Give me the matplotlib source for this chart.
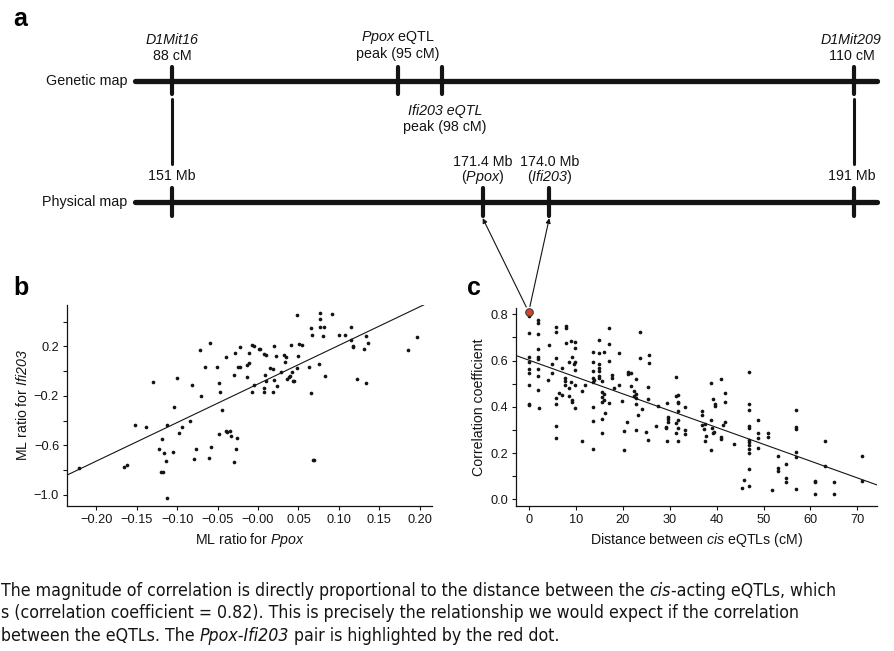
import os
import matplotlib
matplotlib.use('Agg')
import matplotlib.pyplot as plt
from matplotlib import font_manager as fm
from matplotlib.patches import ConnectionPatch
import numpy as np

SANS = 'Liberation Sans'

plt.rcParams['font.family'] = [SANS, 'DejaVu Sans']
plt.rcParams['mathtext.fontset'] = 'custom'
plt.rcParams['mathtext.rm'] = SANS
plt.rcParams['mathtext.it'] = SANS + ':italic'
plt.rcParams['mathtext.sf'] = SANS + ':italic'

# ---------------- data ----------------
# Panel a: markers on genetic and physical maps
marker_names = ['D1Mit16', 'Ppox', 'Ifi203', 'D1Mit209']
genetic_cm = ['88', '95', '98', '110']
physical_mb = ['151', '171.4', '174.0', '191']

# Panel b: ML ratios
ppox_ratio = [-0.221, -0.165, -0.162, -0.152, -0.139, -0.130, -0.122, -0.118, -0.120, -0.117,
              -0.116, -0.114, -0.112, -0.112, -0.105, -0.104, -0.100, -0.097, -0.094, -0.084,
              -0.082, -0.079, -0.077, -0.072, -0.070, -0.065, -0.061, -0.059, -0.058, -0.051,
              -0.048, -0.048, -0.047, -0.045, -0.040, -0.039, -0.038, -0.035, -0.033, -0.030,
              -0.030, -0.028, -0.027, -0.026, -0.025, -0.022, -0.022, -0.014, -0.014, -0.011,
              -0.011, -0.007, -0.007, -0.005, -0.005, 0.001, 0.003, 0.007, 0.010, 0.007,
              0.008, 0.009, 0.010, 0.015, 0.018, 0.019, 0.020, 0.020, 0.022, 0.023,
              0.028, 0.032, 0.033, 0.035, 0.036, 0.038, 0.039, 0.041, 0.042, 0.043,
              0.045, 0.048, 0.048, 0.050, 0.051, 0.054, 0.063, 0.066, 0.066, 0.067,
              0.068, 0.069, 0.075, 0.076, 0.076, 0.077, 0.080, 0.081, 0.083, 0.091,
              0.100, 0.107, 0.115, 0.115, 0.117, 0.118, 0.122, 0.131, 0.134, 0.134,
              0.136, 0.185, 0.196]
ifi203_ratio = [-0.782, -0.773, -0.757, -0.434, -0.455, -0.089, -0.628, -0.547, -0.817, -0.817,
                -0.658, -0.730, -0.439, -1.027, -0.652, -0.291, -0.059, -0.498, -0.450, -0.407,
                -0.113, -0.714, -0.631, 0.170, -0.204, 0.036, -0.706, 0.230, -0.617, 0.036,
                -0.094, -0.509, -0.169, -0.318, -0.488, 0.111, -0.496, -0.482, -0.525, -0.032,
                -0.733, 0.143, -0.633, -0.539, 0.036, 0.036, 0.195, 0.046, -0.045, 0.143,
                0.062, 0.213, -0.167, 0.200, -0.113, 0.181, 0.181, 0.138, 0.130, -0.167,
                -0.137, -0.032, -0.080, 0.022, 0.014, -0.167, -0.070, 0.203, 0.119, -0.118,
                -0.008, 0.133, 0.076, 0.116, -0.062, -0.045, -0.040, 0.208, -0.005, -0.083,
                -0.083, 0.453, 0.025, 0.124, 0.216, 0.211, 0.033, 0.346, -0.178, 0.294,
                -0.720, -0.720, 0.057, 0.418, 0.472, 0.354, 0.284, 0.354, -0.040, 0.462,
                0.294, 0.289, 0.354, 0.251, 0.195, 0.203, -0.064, 0.178, -0.099, 0.281,
                0.227, 0.173, 0.273]
fit_b = (3.12, -0.104)   # slope, intercept

# Panel c: correlation vs distance between cis eQTLs
distance_cm = [0, 0, 0, 0, 0, 0, 0, 0, 0,
               1.9, 1.9, 1.9, 1.9, 1.9, 1.9, 1.9, 1.9, 1.9, 2.1,
               4.3, 4.1, 5.0, 5.0,
               5.9, 5.9, 5.9, 5.9, 5.9, 5.9, 5.9,
               6.4, 7.1, 7.0, 7.95, 7.95, 7.95, 7.8, 7.8, 7.8, 8.5, 8.5, 8.5,
               9.0, 9.2, 9.2, 9.2, 9.8, 9.8, 9.9, 9.9, 9.9, 9.9, 9.6, 9.1,
               11.3, 11.3, 11.9,
               13.6, 13.6, 13.6, 13.6, 13.6, 13.6, 13.6, 13.6, 14.0,
               15.05, 15.05, 15.05, 15.05, 15.05, 15.05, 15.05,
               15.6, 15.6, 15.6, 15.6, 15.6, 15.6,
               16.2, 16.0, 16.0, 16.0,
               17.2, 17.2, 17.2, 17.2, 17.8, 17.8, 18.1,
               19.2, 19.2, 19.9, 20.3, 20.3, 21.0,
               21.2, 21.2, 21.8, 21.8, 22.4, 22.4, 22.9, 22.9, 22.9, 22.9, 22.9, 23.2,
               23.8, 23.8, 24.1, 25.0, 25.3, 25.3, 25.7, 25.7, 25.3,
               27.5, 27.2,
               29.5, 29.7, 29.7, 29.3, 29.3, 29.7, 29.5,
               31.3, 31.4, 31.8, 31.7, 31.7, 31.7, 31.7, 31.4, 31.3, 31.7, 31.7,
               33.2, 33.2, 33.2,
               36.8, 36.8, 36.8, 37.6, 37.3, 37.8, 37.6,
               38.8, 39.3, 39.6, 39.6, 38.8, 39.0, 39.2, 39.5, 38.8,
               41.0, 41.7, 41.7, 41.7, 41.4, 41.0, 41.0, 43.7,
               47, 47, 47, 47, 47, 47, 47, 47, 47, 47, 47, 47,
               48.8, 48.8, 48.8, 48.8, 51.0, 51.0, 45.8, 45.4, 51.7,
               53.0, 53.0, 53.0, 54.8, 54.8, 54.8,
               57, 57, 57, 57, 57, 57,
               61.0, 61.0, 61.0, 63.0, 63.0, 65.0, 65.0, 71.0, 71.0]
correlation = [0.794, 0.720, 0.617, 0.595, 0.562, 0.545, 0.493, 0.413, 0.408,
               0.777, 0.764, 0.717, 0.649, 0.617, 0.607, 0.564, 0.532, 0.473, 0.396,
               0.667, 0.515, 0.584, 0.545,
               0.744, 0.725, 0.613, 0.440, 0.411, 0.319, 0.265,
               0.458, 0.451, 0.566, 0.751, 0.740, 0.678, 0.526, 0.512, 0.494, 0.592, 0.483, 0.448,
               0.685, 0.617, 0.430, 0.422, 0.679, 0.656, 0.595, 0.559, 0.494, 0.396, 0.584, 0.509,
               0.470, 0.250, 0.494,
               0.639, 0.592, 0.556, 0.523, 0.506, 0.400, 0.338, 0.216, 0.516,
               0.689, 0.634, 0.584, 0.566, 0.556, 0.534, 0.523,
               0.512, 0.466, 0.444, 0.422, 0.346, 0.288,
               0.372, 0.638, 0.454, 0.429,
               0.742, 0.670, 0.600, 0.415, 0.537, 0.526, 0.480,
               0.631, 0.494, 0.425, 0.297, 0.213, 0.333,
               0.552, 0.540, 0.545, 0.492, 0.470, 0.448, 0.454, 0.437, 0.520, 0.414, 0.300, 0.364,
               0.725, 0.613, 0.391, 0.290, 0.487, 0.257, 0.624, 0.588, 0.434,
               0.402, 0.319,
               0.418, 0.354, 0.346, 0.314, 0.307, 0.333, 0.252,
               0.528, 0.448, 0.450, 0.422, 0.415, 0.382, 0.343, 0.328, 0.288, 0.307, 0.252,
               0.397, 0.300, 0.281,
               0.382, 0.365, 0.321, 0.325, 0.302, 0.275, 0.254,
               0.504, 0.432, 0.412, 0.403, 0.343, 0.310, 0.287, 0.291, 0.213,
               0.519, 0.461, 0.422, 0.333, 0.321, 0.268, 0.261, 0.238,
               0.549, 0.412, 0.386, 0.319, 0.307, 0.257, 0.247, 0.236, 0.216, 0.199, 0.131, 0.059,
               0.342, 0.288, 0.267, 0.220, 0.285, 0.271, 0.084, 0.050, 0.040,
               0.188, 0.134, 0.124, 0.151, 0.091, 0.076,
               0.386, 0.314, 0.304, 0.206, 0.184, 0.043,
               0.081, 0.075, 0.023, 0.254, 0.146, 0.076, 0.022, 0.189, 0.081]
highlight_distance = 0.0
highlight_corr = 0.81
fit_c = (-0.00728, 0.602)   # slope, intercept

# caption: (text, italic) segments per line
caption_lines = [
    [('The magnitude of correlation is directly proportional to the distance between the ', False),
     ('cis', True), ('-acting eQTLs, which', False)],
    [('s (correlation coefficient = 0.82). This is precisely the relationship we would expect if the correlation', False)],
    [('between the eQTLs. The ', False), ('Ppox-Ifi203', True),
     (' pair is highlighted by the red dot.', False)],
]


# ---------------- fonts for the caption (condensed if available) ----------------
def find_condensed():
    best = None
    for e in fm.fontManager.ttflist:
        n = e.name.lower()
        f = os.path.basename(e.fname).lower()
        if 'mono' in n or 'serif' in n or 'bold' in f or 'light' in f or 'thin' in f:
            continue
        if 'liberation sans narrow' in n or 'liberationsansnarrow' in f:
            rank = 0
        elif 'condensed' in n or 'condensed' in f or str(e.stretch) in ('condensed', 'semi-condensed'):
            rank = 1 if 'dejavu' in n else 2
        else:
            continue
        if best is None or rank < best[0]:
            best = (rank, e.name, e.stretch)
    if best is None:
        return None, None
    reg = ita = None
    for e in fm.fontManager.ttflist:
        f = os.path.basename(e.fname).lower()
        if e.name != best[1] or e.stretch != best[2] or 'bold' in f:
            continue
        if e.style == 'normal' and reg is None:
            reg = e.fname
        elif e.style in ('italic', 'oblique') and ita is None:
            ita = e.fname
    return reg, ita


cond_reg, cond_it = find_condensed()


def cap_prop(italic, size):
    if cond_reg:
        path = cond_it if (italic and cond_it) else cond_reg
        return fm.FontProperties(fname=path, size=size)
    return fm.FontProperties(family=SANS, style='italic' if italic else 'normal', size=size)


# ---------------- figure ----------------
W, H = 894, 651
fig = plt.figure(figsize=(W / 100, H / 100), dpi=100)
INK = '#141414'

# Panel a (schematic diagram drawn in pixel space)
ax0 = fig.add_axes([0, 0, 1, 1], zorder=0)
ax0.set_xlim(0, W)
ax0.set_ylim(H, 0)
ax0.axis('off')

gen_x = [172.3, 398.0, 442.3, 854.3]
phys_x = [172.3, 482.7, 549.3, 854.3]
gen_y, phys_y = 81, 201.7
map_left, map_right = 135, 877

ax0.plot([map_left, map_right], [gen_y, gen_y], lw=3.8, color=INK, solid_capstyle='round')
ax0.plot([map_left, map_right], [phys_y, phys_y], lw=3.8, color=INK, solid_capstyle='round')
for x in gen_x:
    ax0.plot([x, x], [gen_y - 14, gen_y + 13], lw=3.0, color=INK, solid_capstyle='round')
for x in phys_x:
    ax0.plot([x, x], [phys_y - 14, phys_y + 14], lw=3.0, color=INK, solid_capstyle='round')
for i in (0, 3):
    ax0.plot([gen_x[i], gen_x[i]], [99, 164], lw=2.2, color=INK, solid_capstyle='round')

fs_a = 10.3
ax0.text(127, gen_y, 'Genetic map', ha='right', va='center', fontsize=fs_a, color=INK)
ax0.text(127, phys_y, 'Physical map', ha='right', va='center', fontsize=fs_a, color=INK)

ax0.text(gen_x[0], 40.5, marker_names[0], ha='center', va='center', fontsize=fs_a,
         style='italic', color=INK)
ax0.text(gen_x[0], 56.5, f'{genetic_cm[0]} cM', ha='center', va='center', fontsize=fs_a, color=INK)
ax0.text(gen_x[1], 37.5, r'$\mathsf{%s}$ eQTL' % marker_names[1], ha='center', va='center',
         fontsize=fs_a, color=INK)
ax0.text(gen_x[1], 54, f'peak ({genetic_cm[1]} cM)', ha='center', va='center', fontsize=fs_a, color=INK)
ax0.text(445, 110.7, f'{marker_names[2]} eQTL', ha='center', va='center', style='italic',
         fontsize=fs_a, color=INK)
ax0.text(445, 126.7, f'peak ({genetic_cm[2]} cM)', ha='center', va='center', fontsize=fs_a, color=INK)
ax0.text(851, 40.5, marker_names[3], ha='center', va='center', fontsize=fs_a,
         style='italic', color=INK)
ax0.text(852, 56.5, f'{genetic_cm[3]} cM', ha='center', va='center', fontsize=fs_a, color=INK)

ax0.text(phys_x[0], 176, f'{physical_mb[0]} Mb', ha='center', va='center', fontsize=fs_a, color=INK)
ax0.text(phys_x[1], 162, f'{physical_mb[1]} Mb', ha='center', va='center', fontsize=fs_a, color=INK)
ax0.text(phys_x[1], 177.5, r'($\mathsf{%s}$)' % marker_names[1], ha='center', va='center',
         fontsize=fs_a, color=INK)
ax0.text(phys_x[2], 162, f'{physical_mb[2]} Mb', ha='center', va='center', fontsize=fs_a, color=INK)
ax0.text(phys_x[2], 177.5, r'($\mathsf{%s}$)' % marker_names[2], ha='center', va='center',
         fontsize=fs_a, color=INK)
ax0.text(852, 176, f'{physical_mb[3]} Mb', ha='center', va='center', fontsize=fs_a, color=INK)

for lab, (x, y) in zip(['a', 'b', 'c'], [(13, 19), (13, 288), (467, 288)]):
    ax0.text(x, y, lab, ha='left', va='center', fontsize=18, fontweight='bold', color='black')


def style_axes(ax):
    for s in ('top', 'right'):
        ax.spines[s].set_visible(False)
    for s in ('left', 'bottom'):
        ax.spines[s].set_linewidth(0.9)
        ax.spines[s].set_color(INK)
    ax.tick_params(direction='out', length=3.2, width=0.8, labelsize=9.2, colors=INK, pad=2.5)
    ax.patch.set_alpha(0)


# Panel b
axb = fig.add_axes([67 / W, 1 - 506 / H, (432 - 67) / W, (506 - 305) / H], zorder=2)
style_axes(axb)
axb.scatter(ppox_ratio, ifi203_ratio, s=7, color=INK, linewidths=0, zorder=3)
xb = np.array([-0.24, 0.22])
axb.plot(xb, fit_b[0] * xb + fit_b[1], color=INK, lw=0.8, zorder=2)
axb.set_xlim(-0.236, 0.215)
axb.set_ylim(-1.09, 0.534)
axb.set_xticks(np.round(np.arange(-0.20, 0.201, 0.05), 2))
axb.set_xticklabels([f'{v:.2f}'.replace('-', '\u2212') for v in np.arange(-0.20, 0.201, 0.05)])
yt = [0.4, 0.2, 0.0, -0.2, -0.4, -0.6, -0.8, -1.0]
axb.set_yticks(yt)
axb.set_yticklabels(['', '0.2', '', '\u22120.2', '', '\u22120.6', '', '\u22121.0'])
axb.set_xlabel(r'ML ratio for $\mathsf{Ppox}$', fontsize=10.2, color=INK, labelpad=4)
axb.set_ylabel(r'ML ratio for $\mathsf{Ifi203}$', fontsize=10.2, color=INK, labelpad=3)

# Panel c
axc = fig.add_axes([516.3 / W, 1 - 506 / H, (876.7 - 516.3) / W, (506 - 308.3) / H], zorder=2)
style_axes(axc)
axc.scatter(distance_cm, correlation, s=7, color=INK, linewidths=0, zorder=3)
xc = np.array([-3, 75])
axc.plot(xc, fit_c[0] * xc + fit_c[1], color=INK, lw=0.8, zorder=2)
axc.scatter([highlight_distance], [highlight_corr], s=30, facecolor='#d2452c', edgecolor='#333333',
            linewidths=0.7, zorder=4, clip_on=False)
axc.set_xlim(-2.64, 74.1)
axc.set_ylim(-0.029, 0.826)
axc.set_xticks(np.arange(0, 71, 10))
axc.set_yticks(np.round(np.arange(0, 0.81, 0.1), 1))
axc.set_yticklabels([f'{v:.1f}' if i % 2 == 0 else '' for i, v in enumerate(np.arange(0, 0.81, 0.1))])
axc.set_xlabel(r'Distance between $\mathsf{cis}$ eQTLs (cM)', fontsize=10.2, color=INK, labelpad=4)
axc.set_ylabel('Correlation coefficient', fontsize=10.2, color=INK, labelpad=3)

# Arrows from the highlighted pair to the physical positions
for x in phys_x[1:3]:
    con = ConnectionPatch(xyA=(highlight_distance, highlight_corr), coordsA=axc.transData,
                          xyB=(x, phys_y + 16.5), coordsB=ax0.transData,
                          arrowstyle='-|>', mutation_scale=7, lw=0.8, color=INK,
                          shrinkA=4, shrinkB=0, zorder=5)
    fig.add_artist(con)

# Caption (page text below the figure), segments placed one after another
renderer = fig.canvas.get_renderer()


def seg_width(s, prop):
    w1 = renderer.get_text_width_height_descent(s + '|', prop, ismath=False)[0]
    w2 = renderer.get_text_width_height_descent('|', prop, ismath=False)[0]
    return w1 - w2


base = 11.0
w_line0 = sum(seg_width(s, cap_prop(it, base)) for s, it in caption_lines[0])
cap_fs = base * 838.0 / w_line0
for segs, yb in zip(caption_lines, [596, 618.5, 641]):
    x = 1.0
    for s, it in segs:
        prop = cap_prop(it, cap_fs)
        ax0.text(x, yb, s, ha='left', va='baseline', fontproperties=prop, color=INK)
        x += seg_width(s, prop)

fig.savefig('out.png', dpi=100)
